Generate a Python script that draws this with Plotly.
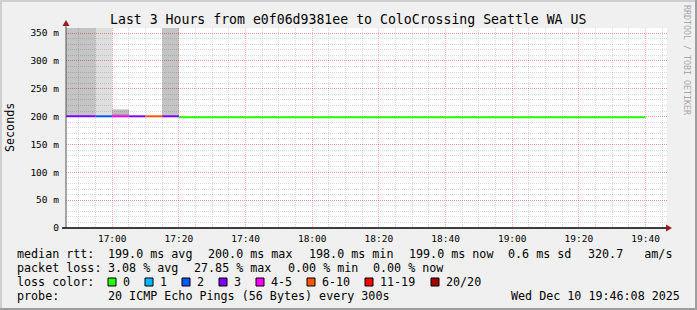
import plotly.graph_objects as go
from datetime import datetime, timedelta

# ---------------- data ----------------
title_text = "Last 3 Hours from e0f06d9381ee to ColoCrossing Seattle WA US"
day = "2025-12-10"
range_start = "2025-12-10 16:46:08"
range_end = "2025-12-10 19:46:26"
step_seconds = 300

sample_start = ["16:45", "16:50", "16:55", "17:00", "17:05", "17:10", "17:15",
                "17:20", "17:25", "17:30", "17:35", "17:40", "17:45", "17:50", "17:55",
                "18:00", "18:05", "18:10", "18:15", "18:20", "18:25", "18:30", "18:35",
                "18:40", "18:45", "18:50", "18:55", "19:00", "19:05", "19:10", "19:15",
                "19:20", "19:25", "19:30", "19:35"]
median_ms = [200.5, 200.5, 200.5, 200.5, 200.5, 200.5, 200.5,
             199, 199, 199, 199, 199, 199, 199, 199,
             199, 199, 199, 199, 199, 199, 199, 198,
             199, 199, 199, 199, 199, 199, 199, 199,
             198, 198, 199, 199]
loss_pings = [3, 3, 2, 4, 3, 6, 3,
              0, 0, 0, 0, 0, 0, 0, 0,
              0, 0, 0, 0, 0, 0, 0, 0,
              0, 0, 0, 0, 0, 0, 0, 0,
              0, 0, 0, 0]

# smoke (ping spread) layers: sample start, low ms, high ms, density
smoke_start = ["16:45", "16:50", "16:55", "17:00", "17:00", "17:15"]
smoke_low = [200, 200, 200, 200, 205, 200]
smoke_high = [400, 400, 400, 205, 213, 400]
smoke_density = [0.23, 0.23, 0.13, 0.36, 0.26, 0.23]

loss_labels = ["0", "1", "2", "3", "4-5", "6-10", "11-19", "20/20"]
loss_colors = ["#26ff00", "#00b8ff", "#0059ff", "#7e00ff", "#ff00ff", "#ff5500", "#ff0000", "#a10000"]

y_tickvals = [0, 50, 100, 150, 200, 250, 300, 350]
y_ticktext = ["0", "50 m", "100 m", "150 m", "200 m", "250 m", "300 m", "350 m"]

legend_rtt = ["median rtt:", "199.0 ms avg", "200.0 ms max", "198.0 ms min",
              "199.0 ms now", "0.6 ms sd", "320.7   am/s"]
legend_loss = ["packet loss:", "3.08 % avg", "27.85 % max", "0.00 % min", "0.00 % now"]
probe_text = "20 ICMP Echo Pings (56 Bytes) every 300s"
stamp_text = "Wed Dec 10 19:46:08 2025"

# ---------------- layout constants ----------------
W, H = 697, 310
L, R, T, B = 66, 30, 28, 82
PW, PH = W - L - R, H - T - B
MONO = "DejaVu Sans Mono"


def px_x(px):
    return (px - L) / PW


def px_y(py):
    return (H - B - py) / PH


def t(hm):
    return datetime.strptime(day + " " + hm, "%Y-%m-%d %H:%M")


def loss_bin(n):
    if n <= 3:
        return n
    if n <= 5:
        return 4
    if n <= 10:
        return 5
    if n <= 19:
        return 6
    return 7


fig = go.Figure()

# smoke
step = timedelta(seconds=step_seconds)
fig.add_trace(go.Bar(
    x=[t(s) + step / 2 for s in smoke_start],
    y=[h - l for l, h in zip(smoke_low, smoke_high)],
    base=smoke_low,
    width=[step_seconds * 1000] * len(smoke_start),
    marker=dict(color=[f"rgba(0,0,0,{d})" for d in smoke_density], line=dict(width=0)),
    hoverinfo="skip",
))

# median line, segments per loss colour
for b, col in enumerate(loss_colors):
    xs, ys = [], []
    for i, (s, m, lp) in enumerate(zip(sample_start, median_ms, loss_pings)):
        if loss_bin(lp) != b:
            continue
        x0 = t(s)
        x1 = x0 + step
        if xs and xs[-1] == x0:
            xs.append(x0); ys.append(m)
            xs.append(x1); ys.append(m)
        else:
            if xs:
                xs.append(None); ys.append(None)
            xs += [x0, x1]
            ys += [m, m]
    if xs:
        fig.add_trace(go.Scatter(x=xs, y=ys, mode="lines",
                                 line=dict(color=col, width=2, shape="linear"),
                                 hoverinfo="skip", connectgaps=False))

major_grid = "rgba(255,0,0,0.27)"
minor_grid = "rgba(140,140,140,0.3)"

fig.update_layout(
    width=W, height=H,
    margin=dict(l=L, r=R, t=T, b=B, pad=0),
    paper_bgcolor="#F0F0F0",
    plot_bgcolor="#FFFFFF",
    showlegend=False,
    barmode="overlay",
    font=dict(family=MONO, color="#000000"),
    xaxis=dict(
        type="date", range=[range_start, range_end],
        tick0=day + " 17:00", dtick=20 * 60 * 1000, tickformat="%H:%M",
        showgrid=True, gridcolor=major_grid, griddash="1px,1px", gridwidth=1,
        minor=dict(dtick=5 * 60 * 1000, tick0=day + " 17:00", showgrid=True,
                   gridcolor=minor_grid, griddash="1px,1px", gridwidth=1),
        zeroline=False, showline=False, ticks="",
        tickfont=dict(family=MONO, size=9.5, color="#000000"),
        ticklabelstandoff=3,
        fixedrange=True,
    ),
    yaxis=dict(
        range=[0, 359],
        tickvals=y_tickvals, ticktext=y_ticktext,
        showgrid=True, gridcolor=major_grid, griddash="1px,1px", gridwidth=1,
        minor=dict(dtick=10, tick0=0, showgrid=True,
                   gridcolor=minor_grid, griddash="1px,1px", gridwidth=1),
        zeroline=False, showline=False, ticks="",
        tickfont=dict(family=MONO, size=9.5, color="#000000"),
        ticklabelstandoff=6,
        fixedrange=True,
    ),
)

shapes = []
# frame (3D shade)
shapes.append(dict(type="rect", xref="paper", yref="paper", x0=px_x(0), x1=px_x(2), y0=px_y(H), y1=px_y(0),
                   fillcolor="#CFCFCF", line=dict(width=0), layer="above"))
shapes.append(dict(type="rect", xref="paper", yref="paper", x0=px_x(0), x1=px_x(W), y0=px_y(2), y1=px_y(0),
                   fillcolor="#CFCFCF", line=dict(width=0), layer="above"))
shapes.append(dict(type="rect", xref="paper", yref="paper", x0=px_x(W - 2), x1=px_x(W), y0=px_y(H), y1=px_y(0),
                   fillcolor="#9E9E9E", line=dict(width=0), layer="above"))
shapes.append(dict(type="rect", xref="paper", yref="paper", x0=px_x(0), x1=px_x(W), y0=px_y(H), y1=px_y(H - 2),
                   fillcolor="#9E9E9E", line=dict(width=0), layer="above"))
# axes
shapes.append(dict(type="line", xref="paper", yref="paper", x0=px_x(66), x1=px_x(66), y0=px_y(228), y1=px_y(24),
                   line=dict(color="#555555", width=1), layer="above"))
shapes.append(dict(type="line", xref="paper", yref="paper", x0=px_x(62), x1=px_x(668), y0=px_y(228), y1=px_y(228),
                   line=dict(color="#000000", width=1.5), layer="above"))
# arrows
ax = lambda x, y: f"{px_x(x)},{px_y(y)}"
shapes.append(dict(type="path", xref="paper", yref="paper",
                   path=f"M{ax(62.5, 26)} L{ax(69.5, 26)} L{ax(66, 20)} Z",
                   fillcolor="#9A1C1C", line=dict(width=0), layer="above"))
shapes.append(dict(type="path", xref="paper", yref="paper",
                   path=f"M{ax(666, 224.5)} L{ax(666, 231.5)} L{ax(672, 228)} Z",
                   fillcolor="#9A1C1C", line=dict(width=0), layer="above"))

annotations = []


def text(px, py, s, size=11.7, xanchor="left", color="#000000", angle=0):
    annotations.append(dict(xref="paper", yref="paper", x=px_x(px), y=px_y(py), text=s,
                            showarrow=False, xanchor=xanchor, yanchor="middle", textangle=angle,
                            font=dict(family=MONO, size=size, color=color), borderpad=0))


text(348, 19, title_text, size=13.2, xanchor="center")
text(10, 128, "Seconds", size=11.7, xanchor="center", angle=-90)
text(687, 60, "RRDTOOL / TOBI OETIKER", size=8.3, xanchor="center", color="#A8A8A8", angle=90)

rtt_x = [16, 107, 207, 308, 408, 507, 587]
for x, s in zip(rtt_x, legend_rtt):
    text(x, 254, s)
loss_x = [16, 107, 193, 287, 372]
for x, s in zip(loss_x, legend_loss):
    text(x, 268, s)
text(16, 282, "loss color:")
swatch_x = [108, 145, 182, 219, 256, 307, 365, 431]
for x, lab, col in zip(swatch_x, loss_labels, loss_colors):
    shapes.append(dict(type="rect", xref="paper", yref="paper", x0=px_x(x), x1=px_x(x + 8),
                       y0=px_y(286), y1=px_y(278), fillcolor=col,
                       line=dict(color="#000000", width=1), layer="above"))
    text(x + 14, 282, lab)
text(16, 296, "probe:")
text(107, 296, probe_text)
text(681, 296, stamp_text, xanchor="right")

fig.update_layout(shapes=shapes, annotations=annotations)
fig.write_html("out.html")
